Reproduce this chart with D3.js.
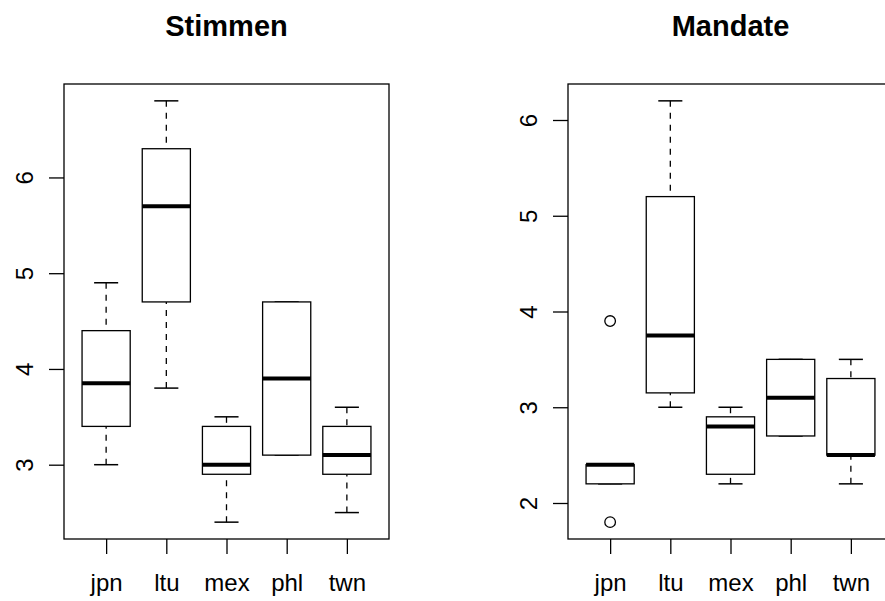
<!DOCTYPE html>
<html>
<head>
<meta charset="utf-8">
<script src="https://cdn.jsdelivr.net/npm/d3@7"></script>
<style>
  body { margin: 0; background: #fff; }
  svg { display: block; font-family: "Liberation Sans", Arial, Helvetica, sans-serif; }
</style>
</head>
<body>
<svg width="885" height="601"></svg>
<script>
// five-number summaries per country: [lower whisker, Q1, median, Q3, upper whisker]
var categories = ["jpn", "ltu", "mex", "phl", "twn"];

var stimmenStats = [
  [3.0, 3.4, 3.85, 4.4, 4.9],
  [3.8, 4.7, 5.7, 6.3, 6.8],
  [2.4, 2.9, 3.0, 3.4, 3.5],
  [3.1, 3.1, 3.9, 4.7, 4.7],
  [2.5, 2.9, 3.1, 3.4, 3.6]
];
var stimmenOutliers = [];

var mandateStats = [
  [2.2, 2.2, 2.4, 2.4, 2.4],
  [3.0, 3.15, 3.75, 5.2, 6.2],
  [2.2, 2.3, 2.8, 2.9, 3.0],
  [2.7, 2.7, 3.1, 3.5, 3.5],
  [2.2, 2.5, 2.5, 3.3, 3.5]
];
var mandateOutliers = [
  {group: "jpn", value: 3.9},
  {group: "jpn", value: 1.8}
];

var svg = d3.select("svg");

function drawPanel(left, title, stats, outliers) {
  var top = 84, bottom = 539, w = 325;

  // R style ranges: data range extended by 4% on each side
  var all = [];
  stats.forEach(function(s) { all.push(s[0], s[4]); });
  outliers.forEach(function(o) { all.push(o.value); });
  var lo = d3.min(all), hi = d3.max(all), pad = (hi - lo) * 0.04;

  var y = d3.scaleLinear().domain([lo - pad, hi + pad]).range([bottom, top]);
  var x = d3.scaleLinear().domain([0.3, categories.length + 0.7]).range([left, left + w]);
  var unit = x(1) - x(0);

  var g = svg.append("g");

  // y axis
  var ya = g.append("g")
    .attr("transform", "translate(" + left + ",0)")
    .call(d3.axisLeft(y).ticks(5).tickSize(15).tickFormat(d3.format("d")));
  ya.select(".domain").remove();
  ya.selectAll("line").attr("stroke", "#000").attr("stroke-width", 1.3);
  ya.selectAll("text")
    .attr("transform", "rotate(-90)")
    .attr("x", 0).attr("y", -31).attr("dy", 0)
    .attr("text-anchor", "middle")
    .attr("fill", "#000")
    .style("font-size", "24px");

  // x axis
  var xa = g.append("g")
    .attr("transform", "translate(0," + bottom + ")")
    .call(d3.axisBottom(x).tickValues(d3.range(1, categories.length + 1))
      .tickSize(15).tickFormat(function(d) { return categories[d - 1]; }));
  xa.select(".domain").remove();
  xa.selectAll("line").attr("stroke", "#000").attr("stroke-width", 1.3);
  xa.selectAll("text")
    .attr("y", 52).attr("dy", 0)
    .attr("fill", "#000")
    .style("font-size", "24px");

  // frame
  g.append("rect")
    .attr("x", left).attr("y", top)
    .attr("width", w).attr("height", bottom - top)
    .attr("fill", "none").attr("stroke", "#000").attr("stroke-width", 1.3);

  var box = g.selectAll(".bx").data(stats).enter().append("g").attr("class", "bx");

  // whiskers, dashed from the whisker end to the box
  box.append("line")
    .attr("x1", function(d, i) { return x(i + 1); })
    .attr("x2", function(d, i) { return x(i + 1); })
    .attr("y1", function(d) { return y(d[0]); })
    .attr("y2", function(d) { return y(d[1]); })
    .attr("stroke", "#000").attr("stroke-width", 1.3).attr("stroke-dasharray", "6,6");
  box.append("line")
    .attr("x1", function(d, i) { return x(i + 1); })
    .attr("x2", function(d, i) { return x(i + 1); })
    .attr("y1", function(d) { return y(d[4]); })
    .attr("y2", function(d) { return y(d[3]); })
    .attr("stroke", "#000").attr("stroke-width", 1.3).attr("stroke-dasharray", "6,6");

  // staples
  [0, 4].forEach(function(k) {
    box.append("line")
      .attr("x1", function(d, i) { return x(i + 1) - unit * 0.2; })
      .attr("x2", function(d, i) { return x(i + 1) + unit * 0.2; })
      .attr("y1", function(d) { return y(d[k]); })
      .attr("y2", function(d) { return y(d[k]); })
      .attr("stroke", "#000").attr("stroke-width", 1.5);
  });

  // boxes
  box.append("rect")
    .attr("x", function(d, i) { return x(i + 1) - unit * 0.4; })
    .attr("width", unit * 0.8)
    .attr("y", function(d) { return y(d[3]); })
    .attr("height", function(d) { return y(d[1]) - y(d[3]); })
    .attr("fill", "#fff").attr("stroke", "#000").attr("stroke-width", 1.3);

  // medians
  box.append("line")
    .attr("x1", function(d, i) { return x(i + 1) - unit * 0.4; })
    .attr("x2", function(d, i) { return x(i + 1) + unit * 0.4; })
    .attr("y1", function(d) { return y(d[2]); })
    .attr("y2", function(d) { return y(d[2]); })
    .attr("stroke", "#000").attr("stroke-width", 4);

  // outliers
  g.selectAll(".out").data(outliers).enter().append("circle")
    .attr("cx", function(d) { return x(categories.indexOf(d.group) + 1); })
    .attr("cy", function(d) { return y(d.value); })
    .attr("r", 5.3)
    .attr("fill", "none").attr("stroke", "#000").attr("stroke-width", 1.3);

  g.append("text")
    .attr("x", left + w / 2).attr("y", 36)
    .attr("text-anchor", "middle")
    .style("font-size", "29px").style("font-weight", "bold")
    .text(title);
}

drawPanel(64, "Stimmen", stimmenStats, stimmenOutliers);
drawPanel(568, "Mandate", mandateStats, mandateOutliers);
</script>
</body>
</html>
